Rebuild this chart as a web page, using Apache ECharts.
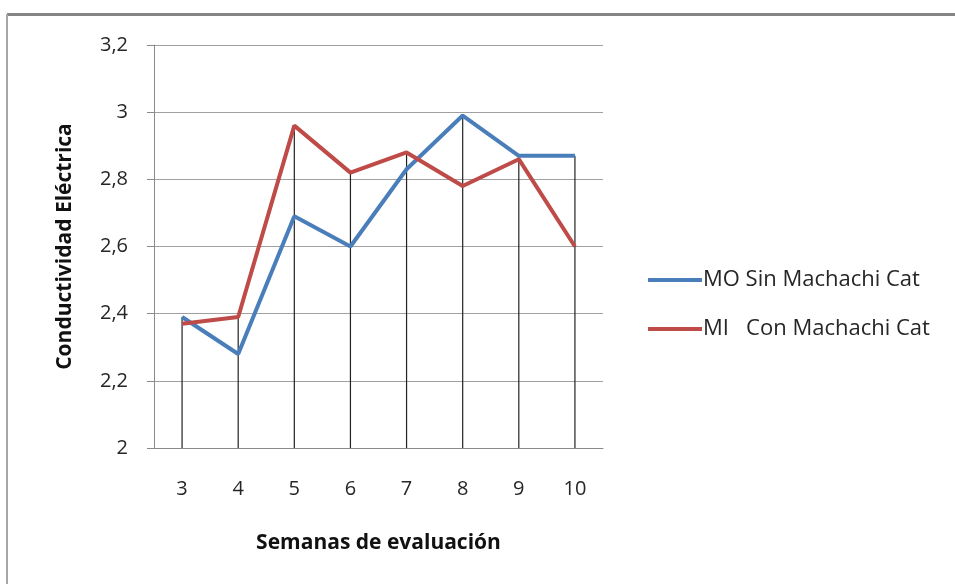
<!DOCTYPE html>
<html>
<head>
<meta charset="utf-8">
<script src="https://cdn.jsdelivr.net/npm/echarts@6/dist/echarts.min.js"></script>
<style>
html,body{margin:0;padding:0;background:#fff;}
#c{width:955px;height:584px;}
</style>
</head>
<body>
<div id="c"></div>
<script>
var categories = ['3','4','5','6','7','8','9','10'];
var seriesMO = [2.39, 2.28, 2.69, 2.60, 2.83, 2.99, 2.87, 2.87];
var seriesMI = [2.37, 2.39, 2.96, 2.82, 2.88, 2.78, 2.86, 2.60];
var nameMO = 'MO Sin Machachi Cat';
var nameMI = 'MI   Con Machachi Cat';
var yTitle = 'Conductividad Eléctrica';
var xTitle = 'Semanas de evaluación';

var dropLines = categories.map(function(c, i){ return Math.max(seriesMO[i], seriesMI[i]); });

var chart = echarts.init(document.getElementById('c'), null, {renderer:'canvas'});
var font = '"Open Sans", Lato, sans-serif';
chart.setOption({
  animation: false,
  textStyle: {fontFamily: font},
  graphic: [
    {type:'line', shape:{x1:7, y1:14.5, x2:955, y2:14.5}, style:{stroke:'#858585', lineWidth:3}},
    {type:'line', shape:{x1:7, y1:14, x2:7, y2:584}, style:{stroke:'#a6a6a6', lineWidth:2}}
  ],
  grid: {left:154, right:352, top:45, bottom:136},
  legend: {
    orient: 'vertical',
    left: 643, top: 264,
    itemWidth: 54, itemHeight: 14, itemGap: 27,
    textStyle: {fontSize: 22, color:'#262626', fontFamily: font, padding:[0,0,0,-4]},
    data: [
      {name: nameMO, icon: 'path://M0,6 L54,6 L54,10 L0,10 Z'},
      {name: nameMI, icon: 'path://M0,6 L54,6 L54,10 L0,10 Z'}
    ]
  },
  xAxis: {
    type: 'category',
    data: categories,
    boundaryGap: true,
    axisLine: {show:true, lineStyle:{color:'#8a8a8a', width:1}},
    axisTick: {show:false},
    axisLabel: {fontSize:20, color:'#262626', margin:31, fontFamily: font},
    name: xTitle,
    nameLocation: 'middle',
    nameGap: 85,
    nameTextStyle: {fontSize:21, fontWeight:'bold', color:'#111', fontFamily: font}
  },
  yAxis: {
    type: 'value',
    min: 2, max: 3.2, interval: 0.2,
    axisLine: {show:true, lineStyle:{color:'#8a8a8a', width:1}},
    axisTick: {show:true, length:7, lineStyle:{color:'#8a8a8a'}},
    splitLine: {show:true, lineStyle:{color:'#a0a0a0', width:1}},
    axisLabel: {fontSize:20, color:'#262626', margin:26, fontFamily: font,
      formatter: function(v){ return String(Math.round(v*10)/10).replace('.', ','); }},
    name: yTitle,
    nameLocation: 'middle',
    nameGap: 78,
    nameTextStyle: {fontSize:21, fontWeight:'bold', color:'#111', fontFamily: font}
  },
  series: [
    {
      type: 'bar', name: 'drop', data: dropLines, barWidth: 1.2,
      itemStyle: {color:'#222'}, silent: true, clip: true, z: 1
    },
    {
      type: 'line', name: nameMO, data: seriesMO, symbol: 'none',
      lineStyle: {color:'#4a7ebb', width:4}, itemStyle:{color:'#4a7ebb'}, z: 3
    },
    {
      type: 'line', name: nameMI, data: seriesMI, symbol: 'none',
      lineStyle: {color:'#be4b48', width:4}, itemStyle:{color:'#be4b48'}, z: 3
    }
  ]
});
</script>
</body>
</html>
